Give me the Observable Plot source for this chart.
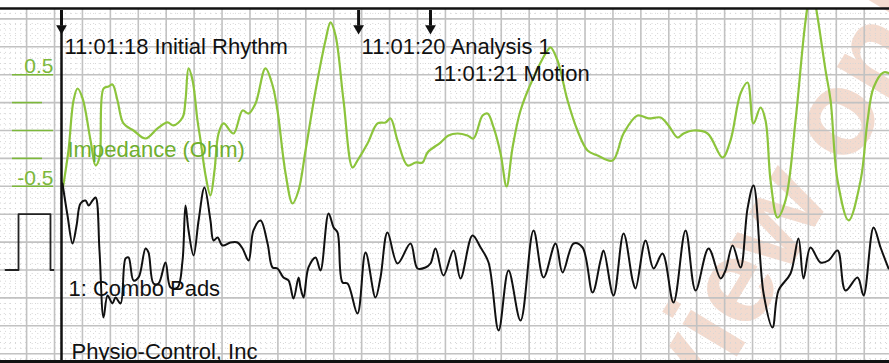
<!DOCTYPE html>
<html><head><meta charset="utf-8">
<script src="https://cdn.jsdelivr.net/npm/d3@7"></script>
<script src="https://cdn.jsdelivr.net/npm/@observablehq/plot@0.6"></script>
<style>html,body{margin:0;padding:0;background:#fff;} svg{display:block}</style>
</head><body><div id="chart"></div>
<script>
// ECG lead "1: Combo Pads" — time (s) and amplitude (mV)
const ecgTime = [0.057,0.093,0.129,0.158,0.186,0.222,0.244,0.272,0.294,0.322,0.351,0.380,0.415,0.437,0.473,0.509,0.530,0.566,0.602,0.652,0.673,0.709,0.745,0.795,0.831,0.881,0.917,0.938,0.960,0.996,1.032,1.074,1.117,1.139,1.168,1.203,1.261,1.311,1.347,1.390,1.425,1.476,1.526,1.562,1.597,1.640,1.676,1.712,1.748,1.762,1.784,1.819,1.870,1.905,1.963,1.999,2.027,2.063,2.099,2.170,2.228,2.299,2.335,2.385,2.457,2.550,2.600,2.657,2.693,2.729,2.786,2.858,2.908,2.994,3.052,3.109,3.181,3.252,3.338,3.431,3.503,3.589,3.639,3.718,3.782,3.854,3.911,3.933,4.004,4.076,4.141,4.162,4.234,4.291,4.355,4.434,4.520,4.592,4.685,4.771,4.806,4.857,4.914,4.964,5.007,5.079,5.143,5.186,5.272,5.329,5.365,5.415,5.487,5.544,5.609,5.666,5.752,5.795,5.867,5.917,5.974];
const ecgMv = [1.550,0.977,0.475,0.797,1.192,1.245,1.156,1.245,1.299,0.349,-0.851,-0.457,-0.600,-0.493,-0.600,0.206,0.224,-0.188,-0.134,0.385,0.314,-0.242,-0.242,0.134,-0.314,-0.314,0.170,1.156,0.708,0.260,0.887,1.478,0.887,0.529,0.582,0.439,0.493,0.493,0.385,0.170,0.708,0.887,0.475,0.045,0.027,-0.134,-0.188,-0.511,-0.134,-0.314,-0.493,0.045,0.224,-0.009,1.013,0.762,0.672,-0.224,-0.242,-0.780,0.314,-0.493,-0.134,0.672,0.116,0.475,0.027,0.045,0.116,0.385,-0.099,0.349,-0.152,0.618,0.403,0.134,-1.084,-0.009,-0.905,0.708,-0.134,0.475,-0.045,0.475,0.403,-0.403,0.170,0.349,-0.457,0.654,-0.188,-0.332,0.529,0.027,0.296,-0.582,0.708,-0.367,0.385,-0.152,-0.009,0.439,0.045,1.100,1.514,-0.421,-1.030,-0.367,-0.063,0.565,-0.152,0.403,0.134,0.170,0.349,-0.367,-0.134,-0.457,0.762,0.403,0.027];

// Impedance channel — time (s) and value (Ohm)
const impTime = [0.057,0.100,0.136,0.165,0.201,0.258,0.294,0.322,0.351,0.387,0.415,0.451,0.494,0.566,0.652,0.738,0.809,0.852,0.917,0.938,0.960,0.989,1.024,1.046,1.082,1.117,1.146,1.175,1.211,1.282,1.347,1.390,1.440,1.511,1.562,1.597,1.655,1.705,1.748,1.798,1.870,1.941,1.977,2.013,2.070,2.135,2.170,2.242,2.314,2.371,2.407,2.457,2.529,2.586,2.636,2.672,2.765,2.822,2.887,2.958,3.001,3.066,3.102,3.145,3.195,3.238,3.281,3.338,3.431,3.532,3.553,3.603,3.675,3.746,3.818,3.890,3.997,4.076,4.176,4.255,4.341,4.398,4.463,4.506,4.577,4.678,4.785,4.842,4.914,4.964,5.007,5.057,5.093,5.129,5.179,5.236,5.308,5.380,5.423,5.458,5.523,5.559,5.609,5.688,5.774,5.824,5.867,5.938,5.981];
const impOhm = [-0.538,-0.179,0.269,0.376,0.287,-0.090,-0.314,-0.242,0.376,0.394,0.412,0.269,0.063,0,-0.072,0.018,0.072,0.045,0.116,0.269,0.556,0.448,0.090,-0.090,-0.403,-0.582,-0.358,-0.027,0.063,-0.027,0.179,0.152,0.242,0.556,0.403,0.179,-0.385,-0.654,-0.538,-0.179,0.358,0.806,0.968,0.851,0.269,-0.332,-0.269,-0.116,0.063,0.072,0.108,-0.090,-0.314,-0.287,-0.287,-0.197,-0.108,-0.045,-0.027,-0.045,-0.072,0.134,0.152,0.027,-0.206,-0.502,-0.152,0.179,0.475,0.717,0.744,0.627,0.269,0,-0.179,-0.224,-0.269,-0.027,0.134,0.108,0.116,0.045,-0.063,-0.027,0,-0.027,-0.242,-0.090,0.332,0.430,0.063,0.206,0.090,-0.448,-0.780,-0.627,0.090,0.986,1.299,1.075,0.538,0.269,-0.448,-0.806,-0.448,0.090,0.385,0.520,0.511];

// 1 mV calibration pulse
const pulseTime = [-0.351,-0.258,-0.258,-0.029,-0.029,-0.007];
const pulseMv = [0,0,1,1,0,0];

// Event markers
const eventTime = [0.050,2.178,2.693];
const eventLabel = ["11:01:18 Initial Rhythm","11:01:20 Analysis 1","11:01:21 Motion"];
const eventRow = [0,0,1];

// Impedance scale ticks
const impTicks = [0.5,0.25,0,-0.25,-0.5];
const impTickLabels = ["0.5","","","","-0.5"];

// Channel labels and watermark
const channelLabels = ["Impedance (Ohm)","1: Combo Pads","Physio-Control, Inc"];
const watermark = ["Preview only"];

const impToMv = v => 2.5 + 2 * v;   // impedance trace shares the strip: 0 Ohm at +2.5 mV, 1 Ohm = 2 mV

const ecg = ecgTime.map((t, i) => ({t, v: ecgMv[i]}));
const imp = impTime.map((t, i) => ({t, v: impToMv(impOhm[i])}));
const pulse = pulseTime.map((t, i) => ({t, v: pulseMv[i]}));
const events = eventTime.map((t, i) => ({t, label: eventLabel[i], row: eventRow[i]}));
const ticks = impTicks.map((v, i) => ({v, label: impTickLabels[i], major: i % 2 === 0}));
const chan = [
  {label: channelLabels[0], t: 0.093, v: 2.159, color: "#6fae2e"},
  {label: channelLabels[1], t: 0.100, v: -0.332, color: "#111"},
  {label: channelLabels[2], t: 0.122, v: -1.461, color: "#111"}
];

const majorX = d3.range(-7, 30).map(k => k * 0.2).filter(t => t > -0.387 && t < 5.981);
const minorX = d3.range(-9, 150).map(k => k * 0.04).filter(t => t > -0.387 && t < 5.981);
const majorY = d3.range(-3, 10).map(k => k * 0.5);
const minorY = d3.range(-16, 47).map(k => k * 0.1);

const chart = Plot.plot({
  width: 889, height: 363,
  marginTop: 8, marginBottom: 2, marginLeft: 0, marginRight: 0,
  x: {domain: [-0.387, 5.981], axis: null},
  y: {domain: [-1.640, 4.686], axis: null},
  style: {fontFamily: "'Liberation Sans', Arial, sans-serif", background: "white", overflow: "visible"},
  marks: [
    Plot.text(watermark, {x: 5.014, y: 0.314, rotate: -59, fontSize: 120, fontWeight: "bold", fill: "#e0a080", fillOpacity: 0.38}),
    Plot.ruleX(minorX, {stroke: "#d6d6d6", strokeWidth: 1, strokeDasharray: "1,4"}),
    Plot.ruleY(minorY, {stroke: "#d6d6d6", strokeWidth: 1, strokeDasharray: "1,4"}),
    Plot.ruleX(majorX, {stroke: "#c2c2c2", strokeWidth: 1.6}),
    Plot.ruleY(majorY, {stroke: "#c2c2c2", strokeWidth: 1.6}),
    Plot.ruleY(ticks, {y: d => impToMv(d.v), x1: -0.301, x2: d => d.major ? -0.007 : -0.086, stroke: "#7cb83a", strokeWidth: 1.6}),
    Plot.text(ticks.filter(d => d.label), {x: -0.007, y: d => impToMv(d.v), text: "label", textAnchor: "end", dy: -8, fontSize: 21, fill: "#7cb83a"}),
    Plot.line(pulse, {x: "t", y: "v", stroke: "#222", strokeWidth: 1.8}),
    Plot.line(imp, {x: "t", y: "v", stroke: "#8cc43c", strokeWidth: 2.2, curve: "catmull-rom", clip: true}),
    Plot.line(ecg, {x: "t", y: "v", stroke: "#111", strokeWidth: 2, curve: "catmull-rom"}),
    Plot.ruleX(events.slice(0, 1), {x: "t", y1: 4.37, y2: -1.64, stroke: "#111", strokeWidth: 2.5}),
    Plot.ruleX(events, {x: "t", y1: 4.65, y2: 4.37, stroke: "#111", strokeWidth: 3}),
    Plot.dot(events, {x: "t", y: 4.33, symbol: "triangle", rotate: 180, r: 4, fill: "#111", stroke: null}),
    Plot.text(events, {x: "t", y: d => d.row ? 3.52 : 4.005, text: "label", textAnchor: "start", dx: 3, fontSize: 22, fill: "#111"}),
    Plot.text(chan, {x: "t", y: "v", text: "label", textAnchor: "start", fontSize: 22, fill: "color"}),
    Plot.frame({anchor: "top", stroke: "#111", strokeWidth: 2.5}),
    Plot.frame({anchor: "bottom", stroke: "#111", strokeWidth: 3})
  ]
});
document.getElementById("chart").appendChild(chart);
</script>
</body></html>
